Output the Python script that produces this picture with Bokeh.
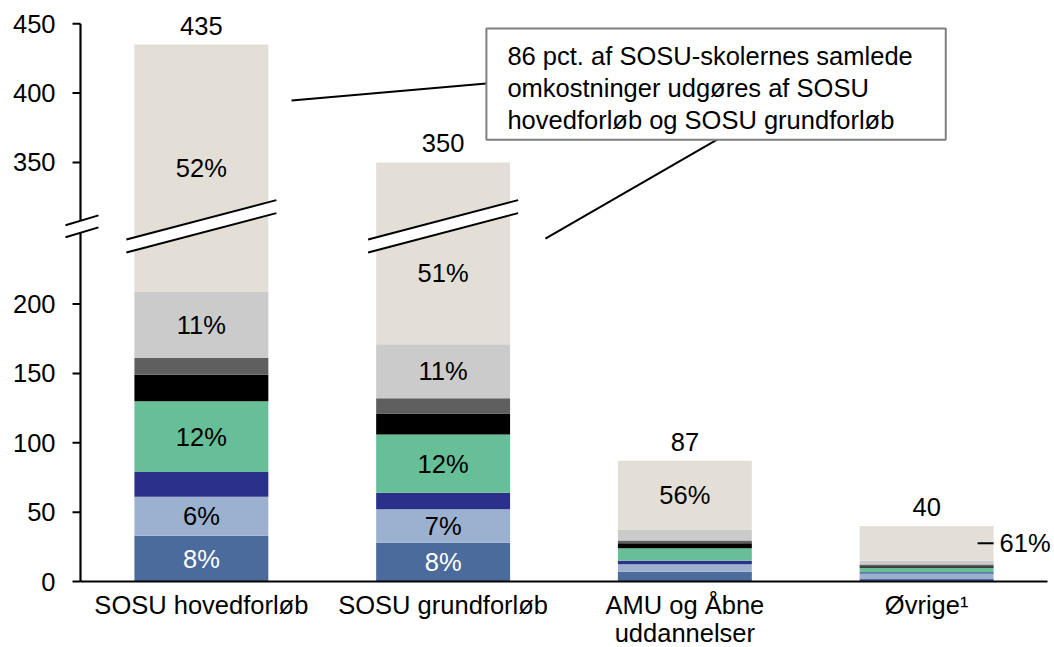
from bokeh.plotting import figure
from bokeh.models import Range1d, FixedTicker, Label, PolyAnnotation, Arrow
from bokeh.core.properties import value
from bokeh.embed import file_html
from bokeh.resources import INLINE

# ---------------- data ----------------
categories = ["SOSU hovedforløb", "SOSU grundforløb", "AMU og Åbne\nuddannelser", "Øvrige¹"]
totals = [435, 350, 87, 40]

# segment values per bar, stacked bottom -> top
seg_blue = [33, 28, 7, 2.2]
seg_lightblue = [28, 24, 5.5, 3.6]
seg_navy = [18, 12, 2.5, 0.9]
seg_green = [51, 42, 9, 3.2]
seg_black = [19, 15, 3.5, 1.1]
seg_darkgray = [12, 11, 2, 1.3]
seg_lightgray = [48, 39, 8, 2.8]
seg_beige = [226, 179, 49.5, 24.9]

series = [seg_blue, seg_lightblue, seg_navy, seg_green, seg_black,
          seg_darkgray, seg_lightgray, seg_beige]
series_colors = ["#4A6B9B", "#9CB0CF", "#2B318A", "#66BF96", "#000000",
                 "#5F5F5F", "#CBCBCB", "#E3DFD6"]

pct_labels = [
    ["8%", "6%", "", "12%", "", "", "11%", "52%"],
    ["8%", "7%", "", "12%", "", "", "11%", "51%"],
    ["", "", "", "", "", "", "", "56%"],
    ["", "", "", "", "", "", "", ""],
]
outside_label = "61%"   # beige share of last bar, shown to the right

y_tick_values = [0, 50, 100, 150, 200, 350, 400, 450]
break_from = 250        # axis break: values above are shifted down
break_gap = 48
break_level = 256       # plotted level of the break marks

annotation_text = ("86 pct. af SOSU-skolernes samlede\n"
                   "omkostninger udgøres af SOSU\n"
                   "hovedforløb og SOSU grundforløb")

FONT_NAME = "Liberation Sans"
FONT = value(FONT_NAME)
FS = "25.5px"
LH = 1.13

W, H = 1054, 647
PXX = 241.75   # px per x unit
PXY = 1.3875   # px per y unit
AXIS_PX = 80   # page x of the value axis
BASE_PX = 581  # page y of value 0
FRAME_LEFT = 60


def fy(v):
    return v if v <= break_from else v - break_gap


centers = [i + 0.5 for i in range(len(categories))]
bar_w = 0.554
n = len(categories)

x_start = -(AXIS_PX - FRAME_LEFT) / PXX
x_end = (W - AXIS_PX) / PXX
y_start = -(H - BASE_PX) / PXY
y_end = BASE_PX / PXY

p = figure(width=W, height=H, x_range=Range1d(x_start, x_end), y_range=Range1d(y_start, y_end),
           output_backend="svg", toolbar_location=None,
           min_border_left=FRAME_LEFT, min_border_right=0, min_border_top=0, min_border_bottom=0)
p.outline_line_color = None
p.xgrid.grid_line_color = None
p.ygrid.grid_line_color = None
p.background_fill_color = "white"
p.border_fill_color = "white"
p.xaxis.visible = False

# stacked bars
lefts, rights, bottoms, tops, colors = [], [], [], [], []
tx, ty, tt, tc, toff = [], [], [], [], []
for i, c in enumerate(centers):
    cum = 0
    for k, s in enumerate(series):
        b, t = cum, cum + s[i]
        cum = t
        lefts.append(c - bar_w / 2)
        rights.append(c + bar_w / 2)
        bottoms.append(fy(b))
        tops.append(fy(t))
        colors.append(series_colors[k])
        lab = pct_labels[i][k]
        if lab:
            tx.append(c)
            ty.append((fy(b) + fy(t)) / 2)
            tt.append(lab)
            tc.append("white" if k == 0 else "black")
            toff.append(20 if (i == 1 and k == len(series) - 1) else 0)

p.quad(left=lefts, right=rights, bottom=bottoms, top=tops,
       fill_color=colors, line_color=None)

p.text(x=tx, y=ty, text=tt, text_color=tc, y_offset=toff,
       text_align="center", text_baseline="middle",
       text_font=FONT, text_font_size=FS)

# totals
p.text(x=centers, y=[fy(t) for t in totals], text=[str(t) for t in totals],
       y_offset=-19, text_align="center", text_baseline="middle",
       text_font=FONT, text_font_size=FS, text_color="black")

# outside label for last bar
last = n - 1
beige_bottom = totals[last] - seg_beige[last]
ymid = (fy(beige_bottom) + fy(totals[last])) / 2
xr = centers[last] + bar_w / 2
p.segment(x0=[xr - 16 / PXX], y0=[ymid], x1=[xr], y1=[ymid], line_color="black", line_width=2)
p.text(x=[xr], y=[ymid], text=[outside_label], x_offset=6,
       text_align="left", text_baseline="middle",
       text_font=FONT, text_font_size=FS, text_color="black")

# value axis: tick labels from Bokeh's axis, line and ticks drawn at x = 0
y_ticks = [fy(v) for v in y_tick_values]
p.yaxis.ticker = FixedTicker(ticks=y_ticks)
p.yaxis.major_label_overrides = {fy(v): str(v) for v in y_tick_values}
p.yaxis.axis_line_color = None
p.yaxis.major_tick_line_color = None
p.yaxis.minor_tick_line_color = None
p.yaxis.major_tick_in = 0
p.yaxis.major_tick_out = 0
p.yaxis.major_label_standoff = 5
p.yaxis.major_label_text_font = FONT_NAME
p.yaxis.major_label_text_font_size = FS
p.yaxis.major_label_text_color = "black"

p.segment(x0=[0], y0=[0], x1=[0], y1=[y_ticks[-1]], line_color="black", line_width=2.2)
p.segment(x0=[-8 / PXX] * len(y_ticks), y0=y_ticks, x1=[0] * len(y_ticks), y1=y_ticks,
          line_color="black", line_width=2)
# category axis line and names
p.segment(x0=[0], y0=[0], x1=[n], y1=[0], line_color="black", line_width=2.2)
p.text(x=centers, y=[0] * n, text=categories, y_offset=9,
       text_align="center", text_baseline="top",
       text_font=FONT, text_font_size=FS, text_color="black", text_line_height=1.0)


# break marks (bars 1, 2 and the value axis)
def add_break(xc, half_w_px, gap_px, slope_px):
    x0 = xc - half_w_px / PXX
    x1 = xc + half_w_px / PXX
    hg = gap_px / 2 / PXY
    dy = slope_px * half_w_px / PXY
    up0, up1 = break_level + hg - dy, break_level + hg + dy
    lo0, lo1 = break_level - hg - dy, break_level - hg + dy
    p.add_layout(PolyAnnotation(xs=[x0, x1, x1, x0], ys=[lo0, lo1, up1, up0],
                                fill_color="white", fill_alpha=1, line_color=None))
    for a, b in ((up0, up1), (lo0, lo1)):
        p.add_layout(Arrow(end=None, x_start=x0, y_start=a, x_end=x1, y_end=b,
                           line_color="black", line_width=2))


add_break(centers[0], 75, 13, 0.262)
add_break(centers[1], 75, 13, 0.262)
add_break(1.5 / PXX, 16.5, 12, 0.3)

# annotation box with leader lines
p.add_layout(Label(x=1.679, y=398.6, text=annotation_text,
                   text_align="left", text_baseline="top",
                   text_font=FONT_NAME, text_font_size=FS, text_color="black",
                   text_line_height=LH,
                   background_fill_color="white", border_line_color="#7F7F7F",
                   border_line_width=2,
                   padding=dict(left=21, right=33, top=14, bottom=6)))
p.segment(x0=[0.873, 1.923], y0=[346.7, 247.2], x1=[1.679, 2.635], y1=[358.9, 318.6],
          line_color="black", line_width=2)

open("out.html", "w").write(file_html(p, INLINE))
